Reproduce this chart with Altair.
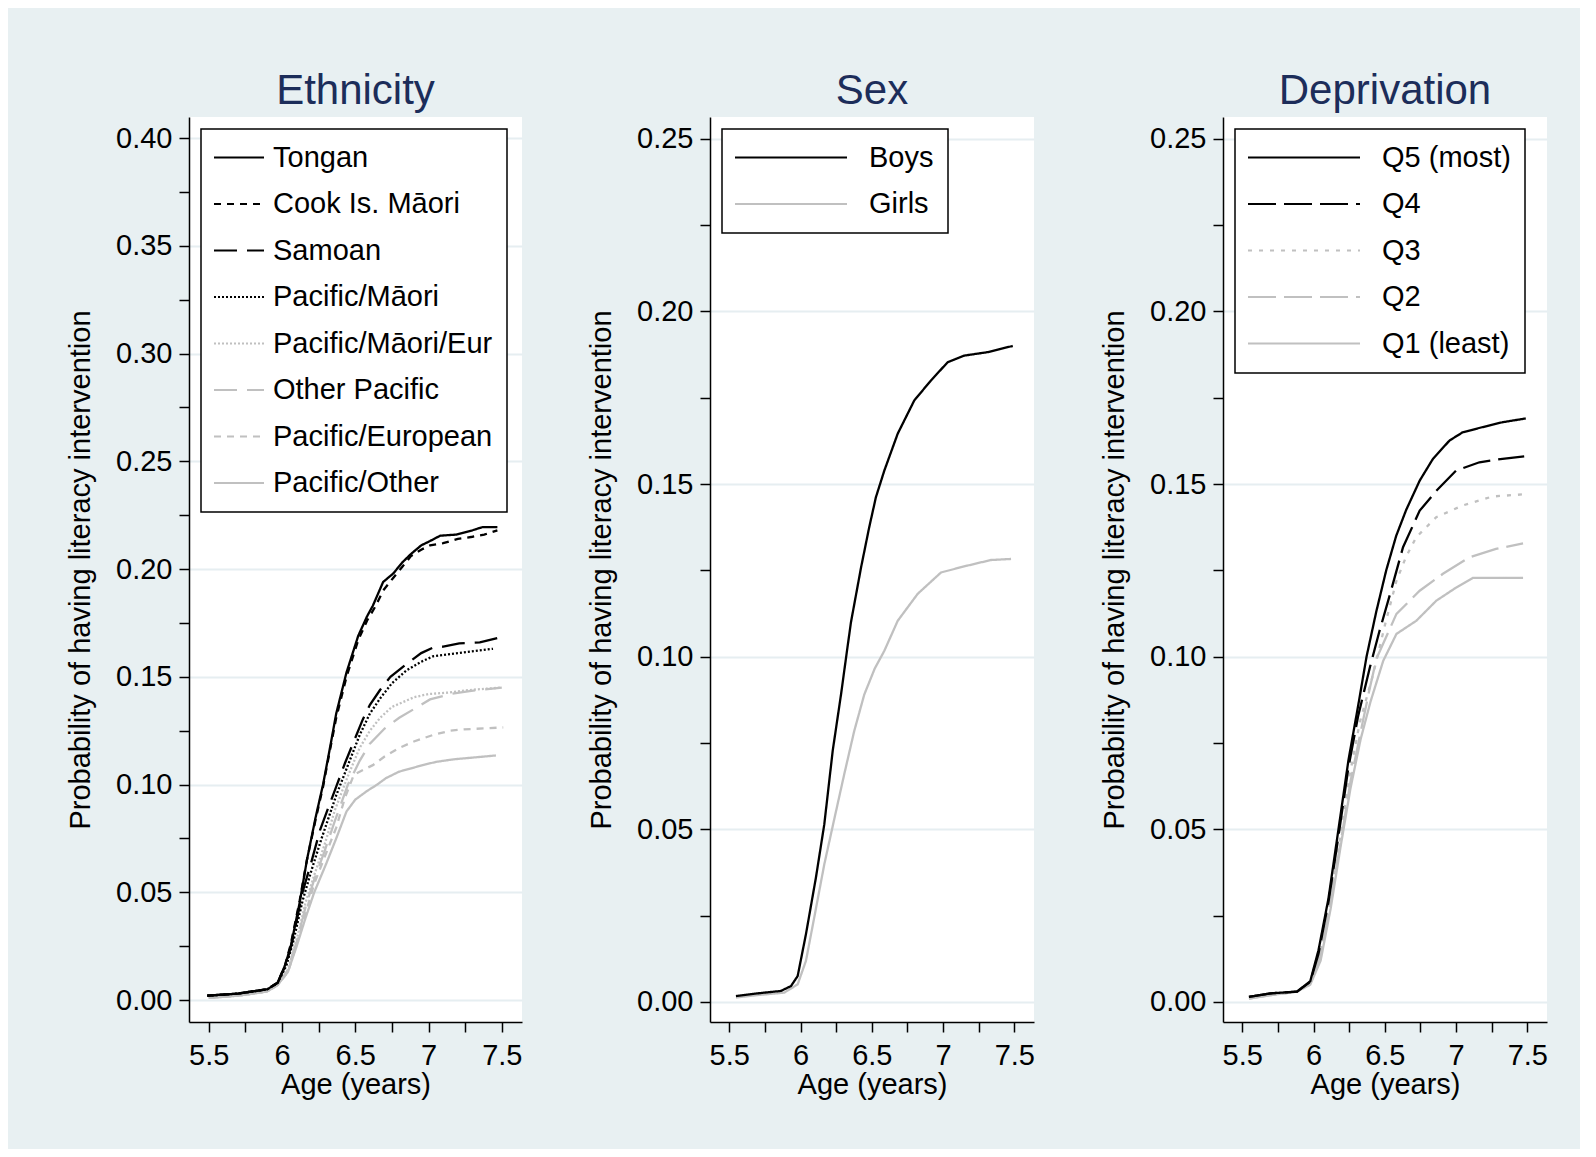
import altair as alt
import pandas as pd

FONT = "Liberation Sans"
BLACK = "#000000"
GREY = "#C0C0C0"

# ---------------- Ethnicity panel ----------------
eth_names = ["Tongan", "Cook Is. Māori", "Samoan", "Pacific/Māori",
             "Pacific/Māori/Eur", "Other Pacific", "Pacific/European", "Pacific/Other"]
eth_colors = [BLACK, BLACK, BLACK, BLACK, GREY, GREY, GREY, GREY]
eth_dashes = [[1, 0], [7, 6], [23, 10], [2, 2], [2, 2], [23, 10], [7, 6], [1, 0]]

tongan_age = [5.49, 5.7, 5.9, 5.97, 6.02, 6.06, 6.12, 6.17, 6.23, 6.28, 6.33, 6.37, 6.44, 6.52, 6.58, 6.62, 6.69, 6.76, 6.82, 6.88, 6.95, 7.01, 7.08, 7.19, 7.3, 7.37, 7.47]
tongan_p = [0.002, 0.003, 0.005, 0.008, 0.016, 0.025, 0.045, 0.065, 0.085, 0.100, 0.118, 0.133, 0.152, 0.169, 0.178, 0.183, 0.194, 0.198, 0.203, 0.207, 0.211, 0.213, 0.2155, 0.216, 0.218, 0.2195, 0.2195]

cook_age = [5.49, 5.7, 5.9, 5.97, 6.02, 6.06, 6.12, 6.17, 6.23, 6.28, 6.33, 6.37, 6.44, 6.52, 6.58, 6.64, 6.69, 6.76, 6.82, 6.88, 6.95, 7.01, 7.1, 7.2, 7.3, 7.38, 7.47]
cook_p = [0.002, 0.003, 0.005, 0.008, 0.016, 0.026, 0.046, 0.065, 0.084, 0.099, 0.117, 0.131, 0.150, 0.167, 0.176, 0.183, 0.190, 0.196, 0.201, 0.206, 0.209, 0.211, 0.212, 0.214, 0.215, 0.216, 0.218]

samoan_age = [5.49, 5.7, 5.9, 5.97, 6.03, 6.08, 6.14, 6.2, 6.26, 6.32, 6.37, 6.43, 6.49, 6.55, 6.6, 6.67, 6.74, 6.87, 6.95, 7.03, 7.1, 7.21, 7.35, 7.47]
samoan_p = [0.002, 0.003, 0.005, 0.008, 0.017, 0.030, 0.050, 0.064, 0.079, 0.090, 0.099, 0.110, 0.120, 0.130, 0.137, 0.144, 0.150, 0.157, 0.161, 0.1635, 0.164, 0.1655, 0.166, 0.168]

pacmaori_age = [5.49, 5.7, 5.9, 5.97, 6.03, 6.08, 6.14, 6.2, 6.27, 6.32, 6.37, 6.45, 6.53, 6.6, 6.67, 6.75, 6.85, 6.95, 7.03, 7.2, 7.44]
pacmaori_p = [0.002, 0.003, 0.005, 0.008, 0.016, 0.028, 0.046, 0.060, 0.075, 0.085, 0.095, 0.109, 0.123, 0.133, 0.140, 0.147, 0.153, 0.157, 0.1595, 0.161, 0.163]

pacmaorieur_age = [5.5, 5.7, 5.9, 5.97, 6.04, 6.1, 6.16, 6.22, 6.29, 6.36, 6.45, 6.53, 6.6, 6.67, 6.75, 6.9, 7.0, 7.12, 7.3, 7.5]
pacmaorieur_p = [0.001, 0.002, 0.004, 0.007, 0.014, 0.028, 0.045, 0.058, 0.072, 0.088, 0.104, 0.117, 0.125, 0.131, 0.136, 0.1405, 0.142, 0.1426, 0.144, 0.145]

othpac_age = [5.5, 5.7, 5.9, 5.97, 6.04, 6.1, 6.16, 6.22, 6.29, 6.36, 6.45, 6.53, 6.6, 6.7, 6.8, 6.9, 7.01, 7.15, 7.28, 7.5]
othpac_p = [0.001, 0.002, 0.004, 0.007, 0.014, 0.027, 0.043, 0.056, 0.069, 0.083, 0.100, 0.111, 0.119, 0.126, 0.131, 0.135, 0.1395, 0.142, 0.1434, 0.145]

paceur_age = [5.5, 5.7, 5.9, 5.97, 6.04, 6.1, 6.16, 6.22, 6.3, 6.37, 6.43, 6.49, 6.56, 6.62, 6.7, 6.8, 6.9, 7.03, 7.15, 7.24, 7.51]
paceur_p = [0.001, 0.002, 0.004, 0.007, 0.013, 0.026, 0.040, 0.054, 0.068, 0.080, 0.094, 0.1045, 0.107, 0.109, 0.113, 0.117, 0.120, 0.123, 0.125, 0.1256, 0.1265]

pacoth_age = [5.5, 5.7, 5.9, 5.97, 6.04, 6.1, 6.16, 6.22, 6.3, 6.37, 6.44, 6.5, 6.58, 6.65, 6.71, 6.8, 6.96, 7.05, 7.17, 7.3, 7.46]
pacoth_p = [0.001, 0.002, 0.004, 0.007, 0.013, 0.025, 0.038, 0.050, 0.063, 0.075, 0.0875, 0.093, 0.097, 0.100, 0.103, 0.106, 0.109, 0.1105, 0.1117, 0.1125, 0.1135]

# ---------------- Sex panel ----------------
sex_names = ["Boys", "Girls"]
sex_colors = [BLACK, GREY]
sex_dashes = [[1, 0], [1, 0]]

boys_age = [5.547, 5.7, 5.863, 5.933, 5.98, 6.038, 6.108, 6.167, 6.226, 6.284, 6.326, 6.354, 6.425, 6.482, 6.529, 6.588, 6.682, 6.798, 6.915, 7.033, 7.149, 7.313, 7.489]
boys_p = [0.0017, 0.0025, 0.0032, 0.0046, 0.0075, 0.0196, 0.036, 0.0515, 0.0728, 0.089, 0.1017, 0.110, 0.1259, 0.1375, 0.1462, 0.1539, 0.1646, 0.1742, 0.180, 0.1853, 0.1872, 0.1882, 0.190]

girls_age = [5.547, 5.7, 5.886, 5.98, 6.038, 6.096, 6.167, 6.237, 6.307, 6.377, 6.447, 6.52, 6.588, 6.682, 6.822, 6.986, 7.173, 7.336, 7.477]
girls_p = [0.0013, 0.002, 0.0027, 0.0051, 0.0119, 0.0244, 0.0399, 0.053, 0.066, 0.0785, 0.089, 0.0965, 0.1017, 0.1104, 0.1182, 0.1244, 0.1264, 0.128, 0.1283]

# ---------------- Deprivation panel ----------------
dep_names = ["Q5 (most)", "Q4", "Q3", "Q2", "Q1 (least)"]
dep_colors = [BLACK, BLACK, GREY, GREY, GREY]
dep_dashes = [[1, 0], [28, 8], [4, 7], [28, 8], [1, 0]]

q5_age = [5.547, 5.7, 5.884, 5.977, 6.035, 6.105, 6.175, 6.245, 6.314, 6.372, 6.44, 6.51, 6.58, 6.65, 6.745, 6.838, 6.954, 7.047, 7.187, 7.326, 7.489]
q5_p = [0.0015, 0.0025, 0.003, 0.006, 0.015, 0.030, 0.050, 0.070, 0.086, 0.100, 0.113, 0.125, 0.135, 0.1425, 0.151, 0.1573, 0.1626, 0.165, 0.1665, 0.1679, 0.169]

q4_age = [5.547, 5.7, 5.884, 5.977, 6.035, 6.105, 6.175, 6.245, 6.314, 6.396, 6.46, 6.536, 6.628, 6.745, 6.861, 7.0, 7.164, 7.326, 7.478]
q4_p = [0.0015, 0.0025, 0.003, 0.0058, 0.014, 0.029, 0.048, 0.068, 0.083, 0.097, 0.107, 0.118, 0.1317, 0.1423, 0.148, 0.1539, 0.1563, 0.1573, 0.158]

q3_age = [5.547, 5.7, 5.884, 5.977, 6.045, 6.115, 6.185, 6.255, 6.325, 6.419, 6.5, 6.582, 6.65, 6.721, 6.861, 7.047, 7.256, 7.47]
q3_p = [0.001, 0.002, 0.003, 0.0055, 0.014, 0.029, 0.047, 0.066, 0.081, 0.095, 0.109, 0.122, 0.129, 0.1346, 0.1404, 0.1438, 0.1464, 0.147]

q2_age = [5.547, 5.7, 5.884, 5.977, 6.045, 6.115, 6.19, 6.26, 6.33, 6.39, 6.442, 6.582, 6.745, 6.908, 7.094, 7.28, 7.47]
q2_p = [0.001, 0.002, 0.003, 0.0055, 0.013, 0.028, 0.046, 0.064, 0.078, 0.090, 0.0995, 0.1124, 0.1191, 0.124, 0.1288, 0.1312, 0.1328]

q1_age = [5.547, 5.7, 5.884, 5.977, 6.05, 6.12, 6.19, 6.26, 6.33, 6.4, 6.489, 6.582, 6.721, 6.861, 7.0, 7.117, 7.47]
q1_p = [0.001, 0.002, 0.003, 0.005, 0.012, 0.027, 0.045, 0.062, 0.076, 0.087, 0.0988, 0.1066, 0.1104, 0.1162, 0.120, 0.1228, 0.1228]

x_ticks = [5.5, 5.75, 6.0, 6.25, 6.5, 6.75, 7.0, 7.25, 7.5]
y_ticks_eth = [round(i * 0.025, 3) for i in range(17)]
y_ticks_sub = [round(i * 0.025, 3) for i in range(11)]


def frame(series_list):
    rows = []
    for name, ages, ps in series_list:
        for a, p in zip(ages, ps):
            rows.append({"series": name, "age": a, "p": p})
    return pd.DataFrame(rows)


# grey curves first so black curves are drawn on top
eth_df = frame([
    ("Pacific/Other", pacoth_age, pacoth_p),
    ("Pacific/European", paceur_age, paceur_p),
    ("Other Pacific", othpac_age, othpac_p),
    ("Pacific/Māori/Eur", pacmaorieur_age, pacmaorieur_p),
    ("Pacific/Māori", pacmaori_age, pacmaori_p),
    ("Samoan", samoan_age, samoan_p),
    ("Cook Is. Māori", cook_age, cook_p),
    ("Tongan", tongan_age, tongan_p),
])
sex_df = frame([
    ("Girls", girls_age, girls_p),
    ("Boys", boys_age, boys_p),
])
dep_df = frame([
    ("Q1 (least)", q1_age, q1_p),
    ("Q2", q2_age, q2_p),
    ("Q3", q3_age, q3_p),
    ("Q4", q4_age, q4_p),
    ("Q5 (most)", q5_age, q5_p),
])

MAJOR_Y = "abs(datum.value*20 - round(datum.value*20)) < 0.01"
MAJOR_X = "abs(datum.value*2 - round(datum.value*2)) < 0.01"


def panel(df, names, colors, dashes, ydom, yticks, title, width, sym_path, label_offset):
    legend = alt.Legend(
        title=None, orient="top-left", offset=12,
        fillColor="white", strokeColor="black", padding=14,
        labelFontSize=29, labelFont=FONT, labelColor="black", labelLimit=0,
        symbolType=sym_path, symbolSize=400, symbolStrokeWidth=2,
        rowPadding=16.5, labelOffset=label_offset,
    )
    x_axis = alt.Axis(
        title="Age (years)", values=x_ticks,
        labelExpr=f"{MAJOR_X} ? format(datum.value, '~g') : ''",
        labelFlush=False, labelOverlap=False, grid=False,
        tickSize=10, labelPadding=9, titlePadding=0,
    )
    y_axis = alt.Axis(
        title="Probability of having literacy intervention", values=yticks,
        labelExpr=f"{MAJOR_Y} ? format(datum.value, '.2f') : ''",
        labelOverlap=False, labelFlush=False,
        grid=True,
        gridOpacity={"condition": {"test": MAJOR_Y, "value": 1}, "value": 0},
        tickSize=10, labelPadding=7, titlePadding=20,
    )
    return alt.Chart(df).mark_line(strokeWidth=2.3, clip=True).encode(
        x=alt.X("age:Q", scale=alt.Scale(domain=[5.365, 7.638], nice=False, zero=False), axis=x_axis),
        y=alt.Y("p:Q", scale=alt.Scale(domain=ydom, nice=False, zero=False), axis=y_axis),
        color=alt.Color("series:N", scale=alt.Scale(domain=names, range=colors), legend=legend),
        strokeDash=alt.StrokeDash("series:N", scale=alt.Scale(domain=names, range=dashes), legend=legend),
    ).properties(
        width=width, height=905,
        title=alt.TitleParams(text=title, fontSize=42, font=FONT, fontWeight="normal",
                              color="#1C2D5A", offset=4, anchor="middle"),
    )


p1 = panel(eth_df, eth_names, eth_colors, eth_dashes, [-0.0102, 0.4098], y_ticks_eth,
           "Ethnicity", 333, "M-1.55,0L3.45,0", 29)
p2 = panel(sex_df, sex_names, sex_colors, sex_dashes, [-0.0058, 0.2563], y_ticks_sub,
           "Sex", 324, "M-1.55,0L9.65,0", 104)
p3 = panel(dep_df, dep_names, dep_colors, dep_dashes, [-0.0058, 0.2563], y_ticks_sub,
           "Deprivation", 324, "M-1.55,0L9.65,0", 104)

chart = alt.hconcat(p1, p2, p3, spacing=65).resolve_scale(
    x="independent", y="independent", color="independent", strokeDash="independent"
).resolve_legend(color="independent", strokeDash="independent").properties(
    padding={"left": 58, "top": 62, "right": 32, "bottom": 50}
).configure(
    background="#E8F0F2", font=FONT
).configure_view(
    stroke=None, fill="white"
).configure_axis(
    labelFont=FONT, titleFont=FONT, labelFontSize=29, titleFontSize=29,
    labelColor="black", titleColor="black", titleFontWeight="normal",
    domainColor="black", domainWidth=1.5, tickColor="black", tickWidth=1.5,
    gridColor="#E6EEF1", gridWidth=2,
).configure_legend(
    strokeWidth=1.5, cornerRadius=0,
)

chart.save("out.html", embed_options={"renderer": "svg", "actions": False})
